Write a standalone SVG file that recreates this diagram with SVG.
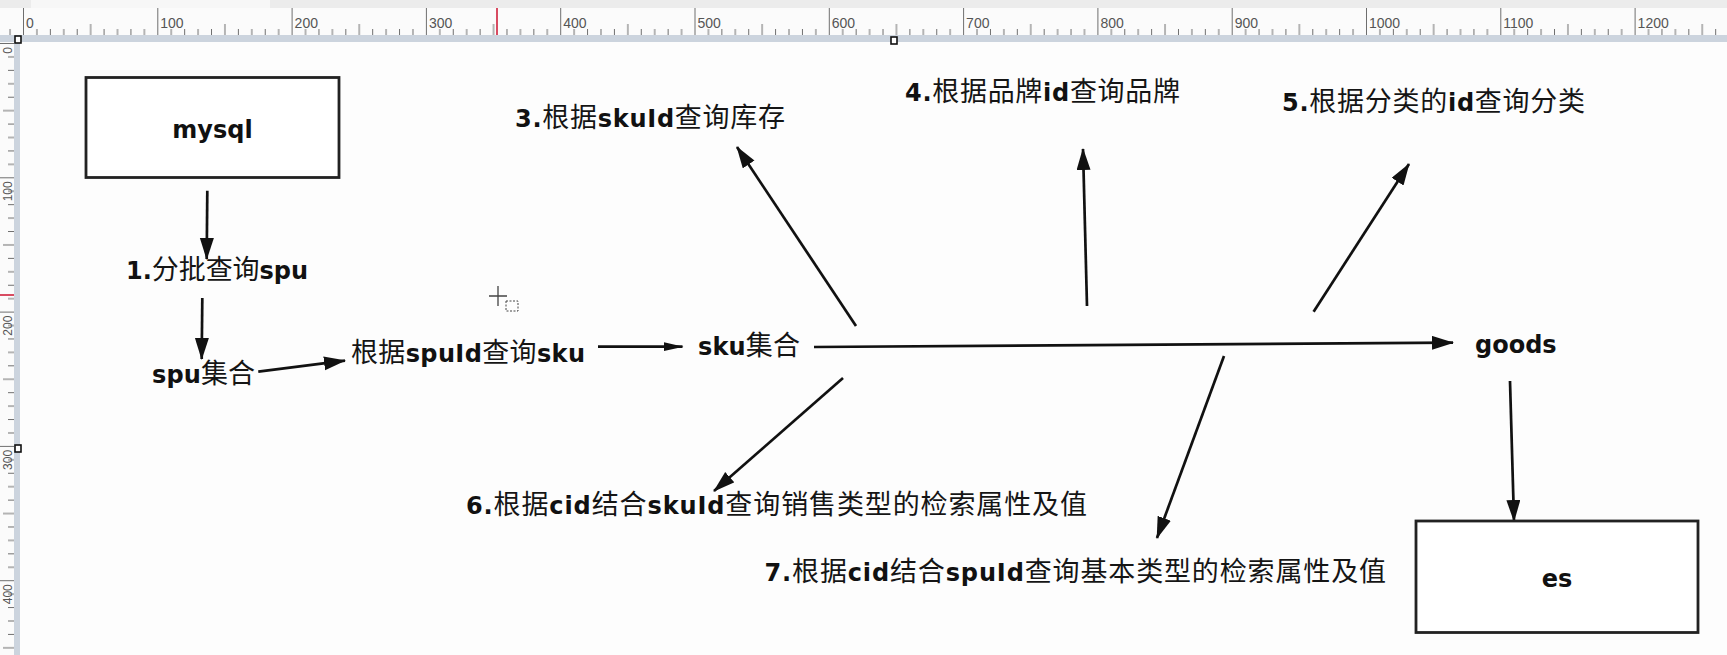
<svg xmlns="http://www.w3.org/2000/svg" width="1727" height="655" viewBox="0 0 1727 655">
<style>
.lab{font-family:"DejaVu Sans","Noto Sans CJK SC",sans-serif;font-size:24px;font-weight:bold;fill:#111}
.cj{font-family:"Noto Sans CJK SC",sans-serif;font-size:27px;font-weight:normal;fill:#151515}
.box{fill:#fff;stroke:#222;stroke-width:2.8}
.con{fill:none;stroke:#111;stroke-width:2.7}
.rn{font-family:"Liberation Sans","DejaVu Sans",sans-serif;font-size:14px;fill:#555}
.rv{font-family:"Liberation Sans","DejaVu Sans",sans-serif;font-size:12px;fill:#555}
.tk{stroke:#6e6e6e;stroke-width:1}
.hd{fill:#fff;stroke:#111;stroke-width:1.6}
</style>
<defs>
<marker id="ah" markerUnits="userSpaceOnUse" markerWidth="24" markerHeight="16" viewBox="0 0 24 16" refX="21" refY="7" orient="auto"><path d="M0,0 L22,7 L0,14 z" fill="#111"/></marker>
<marker id="ahs" markerUnits="userSpaceOnUse" markerWidth="22" markerHeight="10" viewBox="0 0 22 10" refX="19" refY="4.5" orient="auto"><path d="M0,0 L20,4.5 L0,9 z" fill="#111"/></marker>
<pattern id="rt" patternUnits="userSpaceOnUse" x="23" y="0" width="134.3" height="42">
<path class="tk" d="M0.5,8V35 M13.93,29V35 M27.36,29V35 M40.79,29V35 M54.22,29V35 M67.65,24V35 M81.08,29V35 M94.51,29V35 M107.94,29V35 M121.37,29V35"/>
</pattern>
<pattern id="rl" patternUnits="userSpaceOnUse" x="0" y="43" width="20" height="134.3">
<path class="tk" d="M0,0.5H14 M8,13.93H14 M8,27.36H14 M8,40.79H14 M8,54.22H14 M3,67.65H14 M8,81.08H14 M8,94.51H14 M8,107.94H14 M8,121.37H14"/>
</pattern>
</defs>

<!-- background / chrome -->
<rect x="0" y="0" width="1727" height="655" fill="#fdfdfd"/>
<rect x="0" y="0" width="1727" height="8" fill="#ececec"/>
<rect x="31" y="0" width="239" height="8" fill="#f7f7f7"/>
<rect x="0" y="8" width="1727" height="27" fill="#fbfbfb"/>
<rect x="0" y="8" width="1727" height="27" fill="url(#rt)"/>
<rect x="0" y="35" width="1727" height="7" fill="#ccd4de"/>
<rect x="0" y="42" width="14" height="613" fill="#fbfbfb"/>
<rect x="0" y="42" width="14" height="613" fill="url(#rl)"/>
<rect x="14" y="42" width="6" height="613" fill="#ccd4de"/>
<line x1="497" y1="8" x2="497" y2="35" stroke="#d0203c" stroke-width="1.6"/>
<line x1="0" y1="295" x2="14" y2="295" stroke="#d0203c" stroke-width="1.6"/>
<g class="rn">
<text x="26" y="28">0</text><text x="160.3" y="28">100</text><text x="294.6" y="28">200</text><text x="428.9" y="28">300</text><text x="563.2" y="28">400</text><text x="697.5" y="28">500</text><text x="831.8" y="28">600</text><text x="966.1" y="28">700</text><text x="1100.4" y="28">800</text><text x="1234.7" y="28">900</text><text x="1369" y="28">1000</text><text x="1503.3" y="28">1100</text><text x="1637.6" y="28">1200</text>
</g>
<g class="rv">
<text transform="translate(11.5,47) rotate(-90)" text-anchor="end">0</text>
<text transform="translate(11.5,181.3) rotate(-90)" text-anchor="end">100</text>
<text transform="translate(11.5,315.6) rotate(-90)" text-anchor="end">200</text>
<text transform="translate(11.5,449.9) rotate(-90)" text-anchor="end">300</text>
<text transform="translate(11.5,584.2) rotate(-90)" text-anchor="end">400</text>
</g>
<rect class="hd" x="15" y="36" width="6" height="7"/>
<rect class="hd" x="891" y="37" width="6" height="7"/>
<rect class="hd" x="15" y="445" width="6" height="7"/>

<!-- cursor -->
<g stroke="#444" stroke-width="1.3" fill="none">
<path d="M489,296H507 M498,286V306"/>
<rect x="506" y="301" width="12" height="10" stroke-dasharray="2,1.5" stroke-width="1"/>
</g>

<!-- connectors -->
<g id="connectors">
<line class="con" x1="207.3" y1="190.7" x2="206.7" y2="259" marker-end="url(#ah)"/>
<line class="con" x1="202.3" y1="298" x2="201.7" y2="359" marker-end="url(#ah)"/>
<line class="con" x1="258.3" y1="371.7" x2="345" y2="360.7" marker-end="url(#ah)"/>
<line class="con" x1="598" y1="346.7" x2="682.5" y2="346.7" marker-end="url(#ahs)"/>
<line class="con" x1="814" y1="347" x2="1453" y2="342.7" marker-end="url(#ah)"/>
<line class="con" x1="856" y1="326" x2="737" y2="147" marker-end="url(#ah)"/>
<line class="con" x1="1087" y1="306" x2="1083" y2="149" marker-end="url(#ah)"/>
<line class="con" x1="1313.6" y1="311.7" x2="1409" y2="164" marker-end="url(#ah)"/>
<line class="con" x1="843" y1="378" x2="714" y2="491" marker-end="url(#ah)"/>
<line class="con" x1="1224" y1="356" x2="1157" y2="538" marker-end="url(#ah)"/>
<line class="con" x1="1510" y1="381" x2="1514" y2="521" marker-end="url(#ah)"/>
</g>

<!-- nodes -->
<g id="mysql">
<rect class="box" x="86" y="77.5" width="253" height="100"/>
<text class="lab" x="212.5" y="138" text-anchor="middle">mysql</text>
</g>
<g id="step1">
<text class="lab" x="126" y="279" textLength="182" lengthAdjust="spacing">1.<tspan class="cj">分批查询</tspan>spu</text>
</g>
<g id="spu-set">
<text class="lab" x="152" y="383" textLength="103" lengthAdjust="spacing">spu<tspan class="cj">集合</tspan></text>
</g>
<g id="sku-by-spu">
<text class="lab" x="351" y="362" textLength="234" lengthAdjust="spacing"><tspan class="cj">根据</tspan>spuId<tspan class="cj">查询</tspan>sku</text>
</g>
<g id="sku-set">
<text class="lab" x="698" y="355" textLength="102" lengthAdjust="spacing">sku<tspan class="cj">集合</tspan></text>
</g>
<g id="step3">
<text class="lab" x="515" y="127" textLength="270" lengthAdjust="spacing">3.<tspan class="cj">根据</tspan>skuId<tspan class="cj">查询库存</tspan></text>
</g>
<g id="step4">
<text class="lab" x="905" y="101" textLength="275" lengthAdjust="spacing">4.<tspan class="cj">根据品牌</tspan>id<tspan class="cj">查询品牌</tspan></text>
</g>
<g id="step5">
<text class="lab" x="1282" y="111" textLength="303" lengthAdjust="spacing">5.<tspan class="cj">根据分类的</tspan>id<tspan class="cj">查询分类</tspan></text>
</g>
<g id="goods">
<text class="lab" x="1475" y="353">goods</text>
</g>
<g id="step6">
<text class="lab" x="466" y="514" textLength="621" lengthAdjust="spacing">6.<tspan class="cj">根据</tspan>cid<tspan class="cj">结合</tspan>skuId<tspan class="cj">查询销售类型的检索属性及值</tspan></text>
</g>
<g id="step7">
<text class="lab" x="764.5" y="581" textLength="621.5" lengthAdjust="spacing">7.<tspan class="cj">根据</tspan>cid<tspan class="cj">结合</tspan>spuId<tspan class="cj">查询基本类型的检索属性及值</tspan></text>
</g>
<g id="es">
<rect class="box" x="1416" y="521" width="282" height="111.5"/>
<text class="lab" x="1557" y="587" text-anchor="middle">es</text>
</g>
</svg>
